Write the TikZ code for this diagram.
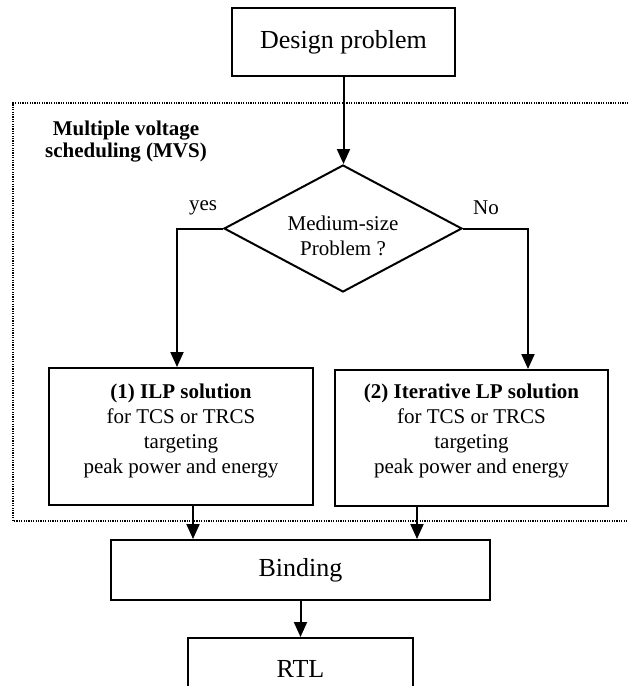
\documentclass[tikz,border=0pt]{standalone}
\usepackage{fontspec}
\setmainfont{Liberation Serif}
\usetikzlibrary{shapes.geometric,arrows.meta}
\begin{document}
\begin{tikzpicture}[x=1pt,y=-1pt,
  box/.style={draw, line width=2pt, inner sep=0pt, align=center},
  big/.style={font=\fontsize{26}{30}\selectfont},
  body/.style={font=\fontsize{21}{25}\selectfont, align=center, inner sep=0pt},
  decision/.style={draw, diamond, line width=2pt, inner sep=0pt,
    minimum width=238pt, minimum height=127pt},
  arr/.style={line width=2pt, -{Triangle[length=15pt,width=13pt]}},
  frame/.style={line width=1.2pt, dash pattern=on 1.2pt off 1.2pt}]
\useasboundingbox (0,0) rectangle (628,686);

% dotted frame around the scheduling stage
\draw[frame] (650,103) -- (13,103) -- (13,521) -- (650,521);
\node[body, font=\bfseries\fontsize{21}{22}\selectfont] (mvs) at (126,142)
  {Multiple voltage\\scheduling (MVS)};

% nodes
\node[box, big, minimum width=223pt, minimum height=68pt] (design) at (343.5,42) {Design problem};
\node[decision] (dec) at (343,228.5) {};
\node[body] (dectxt) at (343,236) {Medium-size\\Problem ?};

\node[box, minimum width=264pt, minimum height=137pt] (ilp) at (181,436.5) {};
\node[body] (ilptxt) at (181,431)
  {\textbf{(1) ILP solution}\\for TCS or TRCS\\targeting\\peak power and energy};

\node[box, minimum width=273pt, minimum height=136pt] (lp) at (471.5,438) {};
\node[body] (lptxt) at (471.5,431)
  {\textbf{(2) Iterative LP solution}\\for TCS or TRCS\\targeting\\peak power and energy};

\node[box, big, minimum width=379pt, minimum height=60pt] (bind) at (300.5,570) {Binding};
\node[box, big, minimum width=225pt, minimum height=62pt] (rtl) at (300.5,669) {RTL};

% branch labels
\node[body] (yes) at (203,208) {yes};
\node[body] (no) at (486,208) {No};

% connectors
\draw[arr] (design.south) -- (design.south |- dec.north);
\draw[arr] (dec.west) -| ([xshift=-4pt]ilp.north);
\draw[arr] (dec.east) -| ([xshift=56.5pt]lp.north);
\draw[arr] ([xshift=12pt]ilp.south) -- ([xshift=12pt]ilp.south |- bind.north);
\draw[arr] ([xshift=-54.5pt]lp.south) -- ([xshift=-54.5pt]lp.south |- bind.north);
\draw[arr] (bind.south) -- (rtl.north);
\end{tikzpicture}
\end{document}
